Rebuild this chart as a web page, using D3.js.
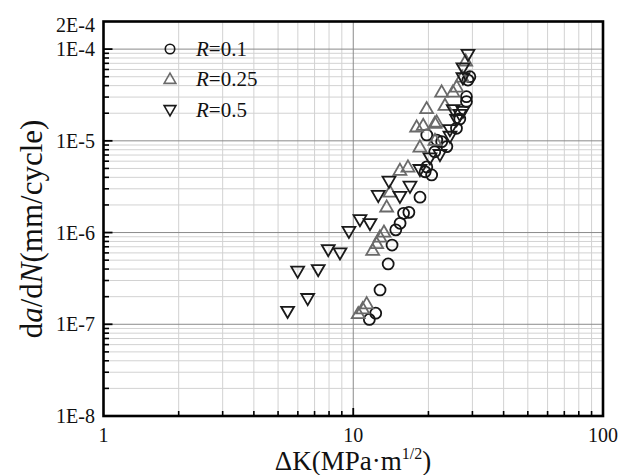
<!DOCTYPE html>
<html>
<head>
<meta charset="utf-8">
<script src="https://cdn.jsdelivr.net/npm/d3@7"></script>
<style>
  body { margin: 0; background: #fff; }
</style>
</head>
<body>
<svg id="chart" width="622" height="475"></svg>
<script>
// R = 0.1 (circles)
const dK_r01 = [11.6, 12.3, 12.8, 13.8, 14.3, 14.8, 15.4, 15.9, 16.7, 18.5, 19.4, 20.6, 19.7, 21.2, 19.7, 21.6, 22.6, 23.7, 25.9, 26.7, 28.4, 28.4, 28.8, 29.3];
const dadN_r01 = [1.13e-7, 1.32e-7, 2.37e-7, 4.55e-7, 7.3e-7, 1.07e-6, 1.26e-6, 1.62e-6, 1.66e-6, 2.43e-6, 4.6e-6, 4.25e-6, 5.2e-6, 7.6e-6, 1.16e-5, 1.02e-5, 9.8e-6, 8.65e-6, 1.37e-5, 1.73e-5, 2.68e-5, 3.03e-5, 4.6e-5, 5.0e-5];

// R = 0.25 (up triangles, gray)
const dK_r025 = [10.47, 10.91, 11.32, 11.96, 12.41, 12.79, 13.27, 13.61, 14.03, 15.38, 16.56, 17.94, 18.49, 19.67, 21.58, 22.59, 23.29, 25.07, 25.94, 19.06, 21.24, 21.24, 27.3, 28.2];
const dadN_r025 = [1.32e-7, 1.49e-7, 1.69e-7, 6.46e-7, 7.64e-7, 9.02e-7, 1.02e-6, 1.92e-6, 2.79e-6, 4.82e-6, 5.23e-6, 1.43e-5, 8.65e-6, 2.27e-5, 1.62e-5, 3.44e-5, 2.46e-5, 3.44e-5, 3.9e-5, 1.49e-5, 1.02e-5, 1.57e-5, 5.0e-5, 7.5e-5];

// R = 0.5 (down triangles)
const dK_r05 = [5.46, 6.57, 5.99, 7.24, 7.94, 8.85, 9.61, 10.64, 11.67, 12.59, 13.9, 15.38, 16.87, 18.49, 20.28, 22.24, 24.39, 25.14, 25.94, 27.49, 27.5, 27.5, 28.8, 24.39, 26.74];
const dadN_r05 = [1.37e-7, 1.89e-7, 3.75e-7, 3.91e-7, 6.46e-7, 5.95e-7, 1.02e-6, 1.37e-6, 1.24e-6, 2.51e-6, 3.59e-6, 2.46e-6, 3.17e-6, 4.82e-6, 6.46e-6, 7.02e-6, 1.11e-5, 2.17e-5, 1.69e-5, 2.08e-5, 4.82e-5, 6.19e-5, 8.65e-5, 1.31e-5, 1.92e-5];

const xTickLabels = ["1", "10", "100"];
const yTickLabels = ["1E-8", "1E-7", "1E-6", "1E-5", "1E-4", "2E-4"];
const legendLabels = ["0.1", "0.25", "0.5"];

const FONT = "'Liberation Serif', 'Times New Roman', Times, 'DejaVu Serif', serif";

const svg = d3.select("#chart");
const pLeft = 103.5, pRight = 603, pTop = 21.5, pBottom = 416;

const x = d3.scaleLog().domain([1, 100]).range([pLeft, pRight]);
const y = d3.scaleLog().domain([1e-8, 2e-4]).range([pBottom, pTop]);

// grid values
const xMinor = [], yMinor = [];
for (let d = 1; d <= 10; d *= 10)
  for (let k = 2; k <= 9; k++) xMinor.push(k * d);
for (let e = -8; e <= -5; e++)
  for (let k = 2; k <= 9; k++) yMinor.push(k * Math.pow(10, e));
const yMajor = [1e-7, 1e-6, 1e-5, 1e-4];

const grid = svg.append("g").attr("class", "grid");
grid.selectAll("line.vx").data(xMinor).enter().append("line")
  .attr("x1", d => x(d)).attr("x2", d => x(d))
  .attr("y1", pTop).attr("y2", pBottom)
  .attr("stroke", "#d2d2d2").attr("stroke-width", 1);
grid.selectAll("line.hy").data(yMinor).enter().append("line")
  .attr("x1", pLeft).attr("x2", pRight)
  .attr("y1", d => y(d)).attr("y2", d => y(d))
  .attr("stroke", "#d2d2d2").attr("stroke-width", 1);
grid.append("line")
  .attr("x1", x(10)).attr("x2", x(10)).attr("y1", pTop).attr("y2", pBottom)
  .attr("stroke", "#8a8a8a").attr("stroke-width", 1);
grid.selectAll("line.hmaj").data(yMajor).enter().append("line")
  .attr("x1", pLeft).attr("x2", pRight)
  .attr("y1", d => y(d)).attr("y2", d => y(d))
  .attr("stroke", "#8a8a8a").attr("stroke-width", 1);

// markers
const circleSym = d3.symbol().type(d3.symbolCircle).size(95);
const triSym = d3.symbol().type(d3.symbolTriangle).size(72);

const series = [
  {k: dK_r01, v: dadN_r01, sym: circleSym, rot: 0, color: "#151515"},
  {k: dK_r025, v: dadN_r025, sym: triSym, rot: 0, color: "#6a6a6a"},
  {k: dK_r05, v: dadN_r05, sym: triSym, rot: 180, color: "#1a1a1a"}
];

series.forEach(s => {
  svg.append("g").selectAll("path")
    .data(s.k.map((k, i) => [k, s.v[i]]))
    .enter().append("path")
    .attr("d", s.sym())
    .attr("transform", d => `translate(${x(d[0])},${y(d[1]) + (s.sym === triSym ? (s.rot ? -1.2 : 1.2) : 0)}) rotate(${s.rot})`)
    .attr("fill", "none")
    .attr("stroke", s.color)
    .attr("stroke-width", 1.8);
});

// ticks
const ticks = svg.append("g").attr("stroke", "#000");
ticks.selectAll("line.xt").data(xMinor).enter().append("line")
  .attr("x1", d => x(d)).attr("x2", d => x(d))
  .attr("y1", pBottom).attr("y2", pBottom - 5).attr("stroke-width", 1.6);
ticks.append("line")
  .attr("x1", x(10)).attr("x2", x(10))
  .attr("y1", pBottom).attr("y2", pBottom - 8).attr("stroke-width", 1.8);
ticks.selectAll("line.yt").data(yMinor).enter().append("line")
  .attr("x1", pLeft).attr("x2", pLeft + 5.5)
  .attr("y1", d => y(d)).attr("y2", d => y(d)).attr("stroke-width", 1.6);
ticks.selectAll("line.ytm").data(yMajor).enter().append("line")
  .attr("x1", pLeft).attr("x2", pLeft + 9)
  .attr("y1", d => y(d)).attr("y2", d => y(d)).attr("stroke-width", 1.8);

// frame
svg.append("rect")
  .attr("x", pLeft).attr("y", pTop)
  .attr("width", pRight - pLeft).attr("height", pBottom - pTop)
  .attr("fill", "none").attr("stroke", "#000").attr("stroke-width", 2.6);

// tick labels
const xVals = [1, 10, 100];
svg.selectAll("text.xl").data(xTickLabels).enter().append("text")
  .attr("x", (d, i) => x(xVals[i]))
  .attr("y", 442)
  .attr("text-anchor", "middle")
  .attr("font-family", FONT).attr("font-size", 20).attr("fill", "#111")
  .text(d => d);

const yVals = [1e-8, 1e-7, 1e-6, 1e-5, 1e-4, 2e-4];
svg.selectAll("text.yl").data(yTickLabels).enter().append("text")
  .attr("x", 95)
  .attr("y", (d, i) => y(yVals[i]) + (i === 5 ? 3 : 0))
  .attr("dy", "0.35em")
  .attr("text-anchor", "end")
  .attr("font-family", FONT).attr("font-size", 20).attr("fill", "#111")
  .text(d => d);

// axis titles
const xt = svg.append("text")
  .attr("x", 353).attr("y", 470)
  .attr("text-anchor", "middle")
  .attr("font-family", FONT).attr("font-size", 27).attr("fill", "#111");
xt.append("tspan").text("\u0394K(MPa\u00b7m");
xt.append("tspan").attr("dy", -11).attr("font-size", 16).text("1/2");
xt.append("tspan").attr("dy", 11).text(")");

const yt = svg.append("text")
  .attr("transform", "translate(42,229) rotate(-90)")
  .attr("text-anchor", "middle")
  .attr("font-family", FONT).attr("font-size", 31).attr("fill", "#111");
yt.append("tspan").text("d");
yt.append("tspan").attr("font-style", "italic").text("a");
yt.append("tspan").text("/d");
yt.append("tspan").attr("font-style", "italic").text("N");
yt.append("tspan").text("(mm/cycle)");

// legend
const legY = [49, 79, 110];
const leg = svg.append("g");
series.forEach((s, i) => {
  leg.append("path")
    .attr("d", i === 0 ? d3.symbol().type(d3.symbolCircle).size(70)() : d3.symbol().type(d3.symbolTriangle).size(60)())
    .attr("transform", `translate(170,${legY[i] + (i === 1 ? 1 : i === 2 ? -1 : 0)}) rotate(${s.rot})`)
    .attr("fill", "none").attr("stroke", s.color).attr("stroke-width", 1.6);
  const t = leg.append("text")
    .attr("x", 196).attr("y", legY[i]).attr("dy", "0.35em")
    .attr("font-family", FONT).attr("font-size", 21).attr("fill", "#111");
  t.append("tspan").attr("font-style", "italic").text("R");
  t.append("tspan").text("=" + legendLabels[i]);
});
</script>
</body>
</html>
